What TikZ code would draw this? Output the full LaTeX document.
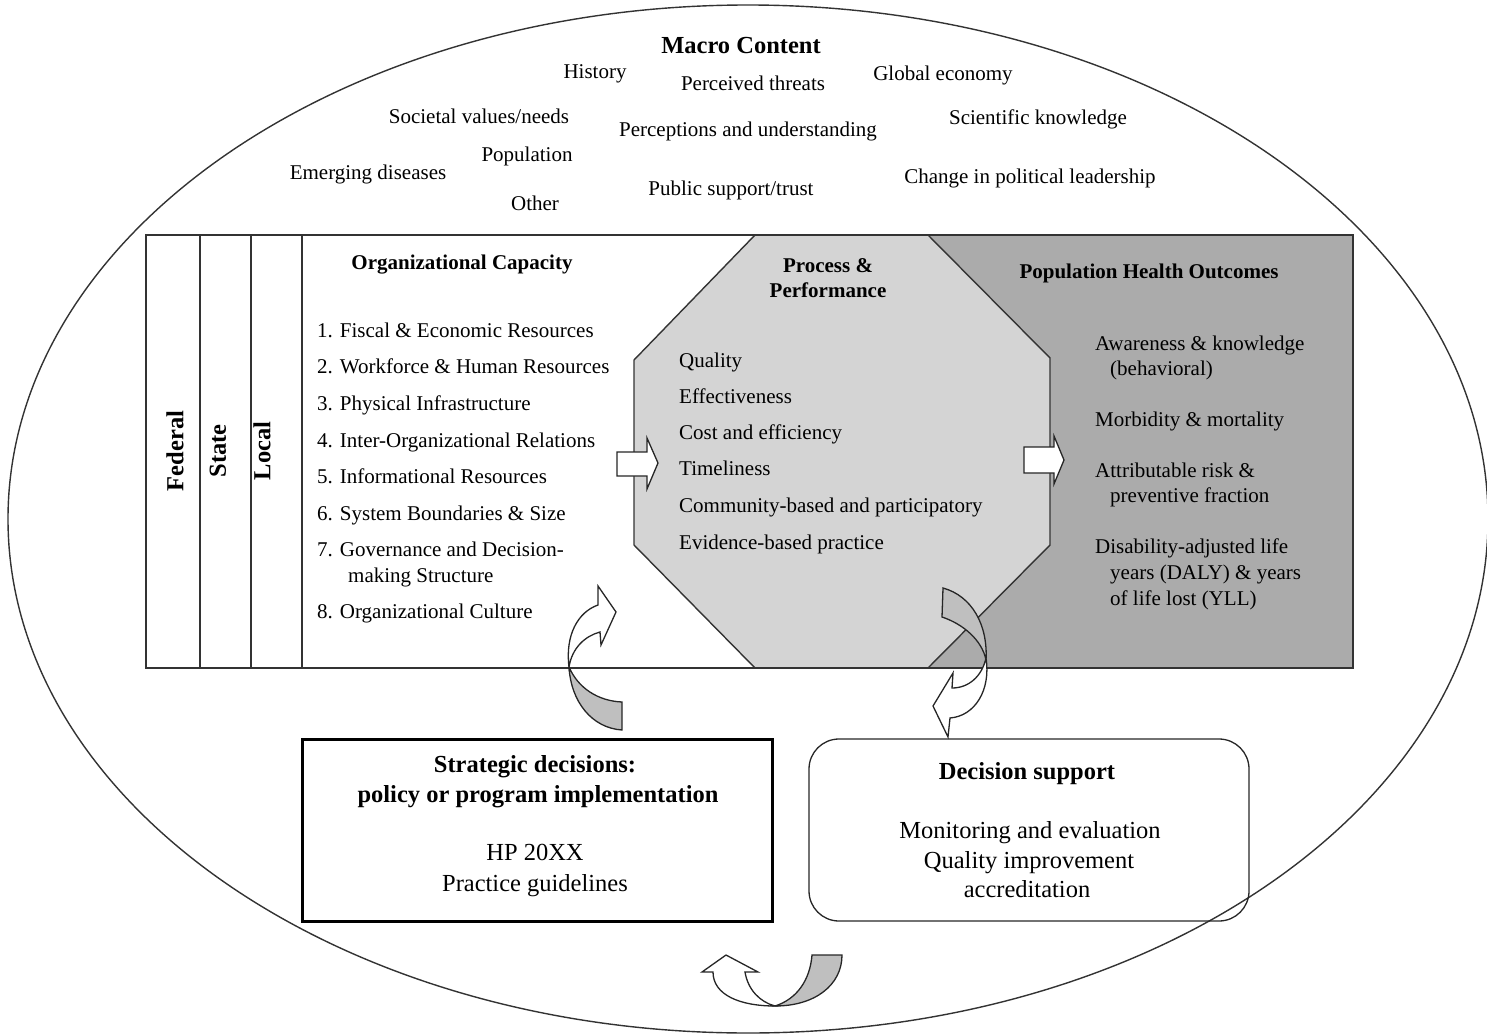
\documentclass[tikz,border=0pt]{standalone}
\usepackage{fontspec}
\setmainfont{Liberation Serif}
\begin{document}
\begin{tikzpicture}[x=1pt,y=-1pt,line join=miter,
  txt/.style={inner sep=0pt,anchor=base,font=\fontsize{21}{25}\selectfont},
  txtl/.style={txt,anchor=base west},
  hdr/.style={inner sep=0pt,anchor=base,font=\fontsize{21}{25}\selectfont\bfseries},
  big/.style={inner sep=0pt,anchor=base,font=\fontsize{24.5}{29}\selectfont},
  bigb/.style={big,font=\fontsize{24.5}{29}\selectfont\bfseries},
  lvl/.style={inner sep=0pt,rotate=90,font=\fontsize{24.5}{29}\selectfont\bfseries},
  edge/.style={draw=black!80,line width=1.4pt},
  blockarrow/.style={fill=white,draw=black!85,line width=1.3pt},
  curvewhite/.style={fill=white,draw=black!85,line width=1.3pt},
  curvegray/.style={fill=black!25,draw=black!85,line width=1.3pt}
]
\useasboundingbox (0,0) rectangle (1487,1035);
% outer ellipse
\draw[edge] (748,519) ellipse [x radius=740, y radius=514];

% macro content
\node[hdr,font=\fontsize{24.5}{29}\selectfont\bfseries] (mc) at (741,54) {Macro Content};
\node[txt] (m1) at (595,79) {History};
\node[txt] (m2) at (753,91) {Perceived threats};
\node[txt] (m3) at (943,81) {Global economy};
\node[txt] (m4) at (479,124) {Societal values/needs};
\node[txt] (m5) at (748,137) {Perceptions and understanding};
\node[txt] (m6) at (1038,125) {Scientific knowledge};
\node[txt] (m7) at (527,162) {Population};
\node[txt] (m8) at (368,179) {Emerging diseases};
\node[txt] (m9) at (1030,183) {Change in political leadership};
\node[txt] (m10) at (731,195) {Public support/trust};
\node[txt] (m11) at (535,211) {Other};

% main panel
\fill[white] (146,235) rectangle (1353,668);
\fill[black!33] (928,235) -- (1353,235) -- (1353,668) -- (928,668) -- (1050,545) -- (1050,358) -- cycle;
\fill[black!17] (755,235) -- (928,235) -- (1050,358) -- (1050,545) -- (928,668) -- (755,668) -- (634,545) -- (634,360) -- cycle;
\draw[edge] (755,235) -- (634,360) -- (634,545) -- (755,668);
\draw[edge] (928,235) -- (1050,358) -- (1050,545) -- (928,668);
\draw[edge] (146,235) rectangle (1353,668);
\draw[edge] (200,235) -- (200,668);
\draw[edge] (251,235) -- (251,668);
\draw[edge] (302,235) -- (302,668);

\node[lvl] (fed) at (175,451) {Federal};
\node[lvl] (sta) at (218,451) {State};
\node[lvl] (loc) at (262,451) {Local};

% organizational capacity
\node[hdr] (oc) at (462,269) {Organizational Capacity};
\node[txtl] (o1) at (317,337) {1. Fiscal \& Economic Resources};
\node[txtl] (o2) at (317,373) {2. Workforce \& Human Resources};
\node[txtl] (o3) at (317,410) {3. Physical Infrastructure};
\node[txtl] (o4) at (317,447) {4. Inter-Organizational Relations};
\node[txtl] (o5) at (317,483) {5. Informational Resources};
\node[txtl] (o6) at (317,520) {6. System Boundaries \& Size};
\node[txtl] (o7) at (317,556) {7. Governance and Decision-};
\node[txtl] (o7b) at (348,582) {making Structure};
\node[txtl] (o8) at (317,618) {8. Organizational Culture};

% process & performance
\node[hdr] (pp1) at (828,272) {Process \&};
\node[hdr] (pp2) at (828,297) {Performance};
\node[txtl] (p1) at (679,367) {Quality};
\node[txtl] (p2) at (679,403) {Effectiveness};
\node[txtl] (p3) at (679,439) {Cost and efficiency};
\node[txtl] (p4) at (679,475) {Timeliness};
\node[txtl] (p5) at (679,512) {Community-based and participatory};
\node[txtl] (p6) at (679,549) {Evidence-based practice};

% population health outcomes
\node[hdr] (pho) at (1149,278) {Population Health Outcomes};
\node[txtl] (h1) at (1095,350) {Awareness \& knowledge};
\node[txtl] (h1b) at (1110,375) {(behavioral)};
\node[txtl] (h2) at (1095,426) {Morbidity \& mortality};
\node[txtl] (h3) at (1095,477) {Attributable risk \&};
\node[txtl] (h3b) at (1110,502) {preventive fraction};
\node[txtl] (h4) at (1095,553) {Disability-adjusted life};
\node[txtl] (h4b) at (1110,579) {years (DALY) \& years};
\node[txtl] (h4c) at (1110,605) {of life lost (YLL)};

% block arrows
\draw[blockarrow] (617,452) -- (647,452) -- (647,438) -- (658,463) -- (647,489) -- (647,476) -- (617,476) -- cycle;
\draw[blockarrow] (1024,447) -- (1054,447) -- (1054,436) -- (1064,460) -- (1054,484) -- (1054,473) -- (1024,473) -- cycle;

% bottom boxes
\node[draw=black,line width=3pt,minimum width=470,minimum height=182,inner sep=0pt] (sd) at (537,830) {};
\node[bigb] (sd1) at (535,772) {Strategic decisions:};
\node[bigb] (sd2) at (538,802) {policy or program implementation};
\node[big] (sd3) at (535,860) {HP 20XX};
\node[big] (sd4) at (535,891) {Practice guidelines};

\node[draw=black!85,line width=1.3pt,rounded corners=30pt,minimum width=440,minimum height=182,inner sep=0pt] (ds) at (1029,830) {};
\node[bigb] (ds1) at (1027,779) {Decision support};
\node[big] (ds2) at (1030,838) {Monitoring and evaluation};
\node[big] (ds3) at (1029,868) {Quality improvement};
\node[big] (ds4) at (1027,897) {accreditation};

% curved arrow 1 (strategic decisions -> organizational capacity)
\draw[curvegray] (622,702) -- (622,730) .. controls (592,728) and (571,702) .. (569,667) .. controls (578,688) and (598,701) .. (622,702) -- cycle;
\draw[curvewhite] (569,667) .. controls (565,635) and (578,612) .. (598,605) -- (598,586) -- (616,612) -- (601,645) -- (600,632) .. controls (585,636) and (572,648) .. (569,667) -- cycle;

% curved arrow 2 (outcomes -> decision support)
\draw[curvegray] (943,588) -- (942,617) .. controls (963,624) and (982,640) .. (986,660) .. controls (988,625) and (972,596) .. (943,588) -- cycle;
\draw[curvewhite] (986,658) .. controls (991,690) and (975,716) .. (950,718) -- (948,737) -- (933,706) -- (953,673) -- (952,688) .. controls (969,688) and (982,676) .. (986,658) -- cycle;

% curved arrow 3 (decision support -> strategic decisions)
\draw[curvegray] (812,955) -- (842,955) .. controls (842,985) and (815,1006) .. (775,1006) .. controls (797,999) and (810,980) .. (812,955) -- cycle;
\draw[curvewhite] (775,1006) .. controls (740,1006) and (713,995) .. (713,972) -- (702,972) -- (726,955) -- (758,972) -- (745,972) .. controls (748,990) and (760,1002) .. (775,1006) -- cycle;
\end{tikzpicture}
\end{document}
